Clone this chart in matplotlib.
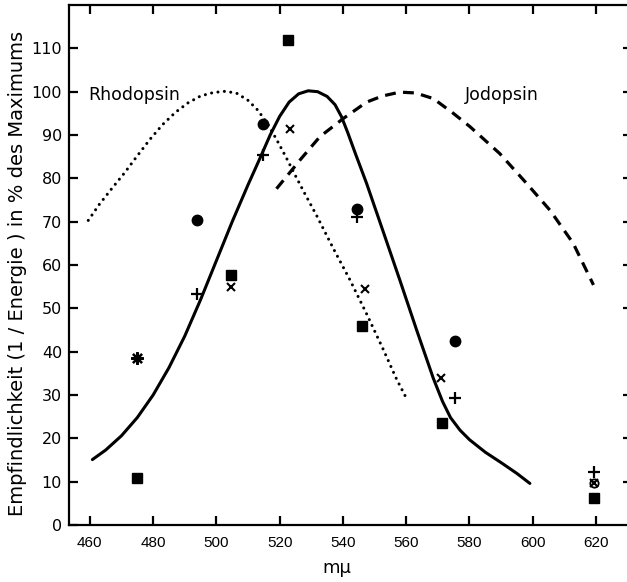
import matplotlib
matplotlib.use("Agg")
import matplotlib.pyplot as plt

# Messpunkte (Wellenlaenge in m\u03bc, Empfindlichkeit in % des Maximums)
quad_x = [475, 504.5, 522.6, 545.9, 571.2, 619.3]
quad_y = [10.8, 57.8, 112.0, 45.9, 23.6, 6.3]

kreis_x = [493.9, 514.8, 544.5, 575.3]
kreis_y = [70.5, 92.6, 73.0, 42.4]

plus_x = [493.9, 514.8, 544.5, 575.5, 619.3]
plus_y = [53.2, 85.3, 71.0, 29.3, 12.2]

kreuz_x = [504.6, 523.2, 546.9, 570.9, 619.3]
kreuz_y = [55.0, 91.5, 54.4, 34.0, 9.8]

stern_x = [474.8]
stern_y = [38.5]

# Kurven
rhodo_x = [459.5, 463, 467, 471, 475, 479, 483, 487, 491, 495,
           499, 503, 506.5, 510, 513, 516, 519, 522, 525, 528,
           531.7, 536.9, 542.2, 547.5, 552.7, 557.0, 560.1]
rhodo_y = [70.3, 74.0, 77.7, 81.3, 85.2, 89.0, 92.4, 95.2, 97.4, 99.0,
           99.8, 100.1, 99.6, 98.0, 95.8, 92.8, 89.0, 84.9, 80.6, 76.4,
           71.4, 63.9, 56.6, 48.7, 40.6, 33.6, 29.2]

kurve_x = [460.8, 465, 470, 475, 480, 485, 490, 495, 500, 505,
           510, 514, 517, 520, 523, 526, 529, 532, 535, 537.5,
           539.5, 541.5, 544, 547.5, 552.5, 558, 563.3, 568.6, 571.5, 574,
           577, 580, 585, 590, 595, 599.1]
kurve_y = [15.1, 17.3, 20.6, 24.8, 30.0, 36.3, 43.6, 52.0, 61.0, 70.0,
           78.5, 85.0, 90.0, 94.3, 97.6, 99.5, 100.2, 100.0, 98.9, 97.0,
           94.3, 90.6, 85.6, 78.8, 68.2, 56.5, 45.0, 33.8, 28.5, 24.8,
           21.9, 19.7, 16.8, 14.4, 11.9, 9.6]

jodo_x = [519.0, 524.3, 526.4, 532.7, 540.1, 547.5, 552.5, 558.0, 563.0, 568.6,
          574.9, 580.2, 589.6, 598.1, 605.5, 612.8, 619.2]
jodo_y = [77.6, 82.3, 84.2, 89.6, 93.8, 97.6, 99.0, 99.9, 99.7, 98.4,
          95.0, 91.9, 85.7, 78.8, 72.6, 65.0, 55.4]

x_ticks = [460, 480, 500, 520, 540, 560, 580, 600, 620]
y_ticks = [0, 10, 20, 30, 40, 50, 60, 70, 80, 90, 100, 110]

fig = plt.figure(figsize=(6.27, 5.82), dpi=100)
ax = fig.add_axes([0.110, 0.0979, 0.890, 0.8935])

ax.plot(rhodo_x, rhodo_y, color="black", lw=2.2, linestyle=(0, (0.01, 2.1)),
        dash_capstyle="round")
ax.plot(kurve_x, kurve_y, color="black", lw=2.2, solid_capstyle="round",
        solid_joinstyle="round")
ax.plot(jodo_x, jodo_y, color="black", lw=2.3, linestyle=(0, (3.4, 2.3)))

ax.plot(quad_x, quad_y, "s", color="black", ms=6.5, ls="none")
ax.plot(kreis_x, kreis_y, "o", color="black", ms=7.5, ls="none")
ax.plot(plus_x, plus_y, "+", color="black", ms=8, mew=1.6, ls="none")
ax.plot(kreuz_x, kreuz_y, "x", color="black", ms=6, mew=1.5, ls="none")
ax.plot([619.3], [9.8], "o", mfc="none", mec="black", ms=6, mew=1.3)
ax.plot(stern_x, stern_y, marker=(8, 2, 0), color="black", ms=9, mew=1.6, ls="none")

ax.text(459.5, 99.2, "Rhodopsin", fontsize=12.5, va="center", ha="left")
ax.text(578.6, 99.2, "Jodopsin", fontsize=12.5, va="center", ha="left")

ax.set_xlim(453.4, 629.8)
ax.set_ylim(0, 120)
ax.set_xticks(x_ticks)
ax.set_yticks(y_ticks)

for s in ["left", "bottom", "top"]:
    ax.spines[s].set_linewidth(1.6)
ax.spines["right"].set_visible(False)

ax.tick_params(axis="both", direction="in", width=1.6, length=6.5,
               top=True, right=False)
ax.tick_params(axis="x", labelsize=11, pad=8)
ax.tick_params(axis="y", labelsize=11.5, pad=5)
for lab in ax.get_xticklabels():
    lab.set_fontfamily("Liberation Sans")

# kurze Striche am rechten Rand
ax2 = ax.twinx()
ax2.set_ylim(ax.get_ylim())
ax2.set_yticks([50, 60, 70, 80, 90, 100, 110, 10, 20, 30])
ax2.set_yticklabels([])
ax2.tick_params(axis="y", direction="in", width=1.6, length=3)
for s in ax2.spines.values():
    s.set_visible(False)

ax.set_xlabel("m\u03bc", fontsize=13)
ax.xaxis.set_label_coords(0.48, -0.065)
ax.set_ylabel("Empfindlichkeit (1 / Energie ) in % des Maximums",
              fontsize=14)
ax.yaxis.set_label_coords(-0.075, 0.483)

fig.savefig("out.png", dpi=100)
